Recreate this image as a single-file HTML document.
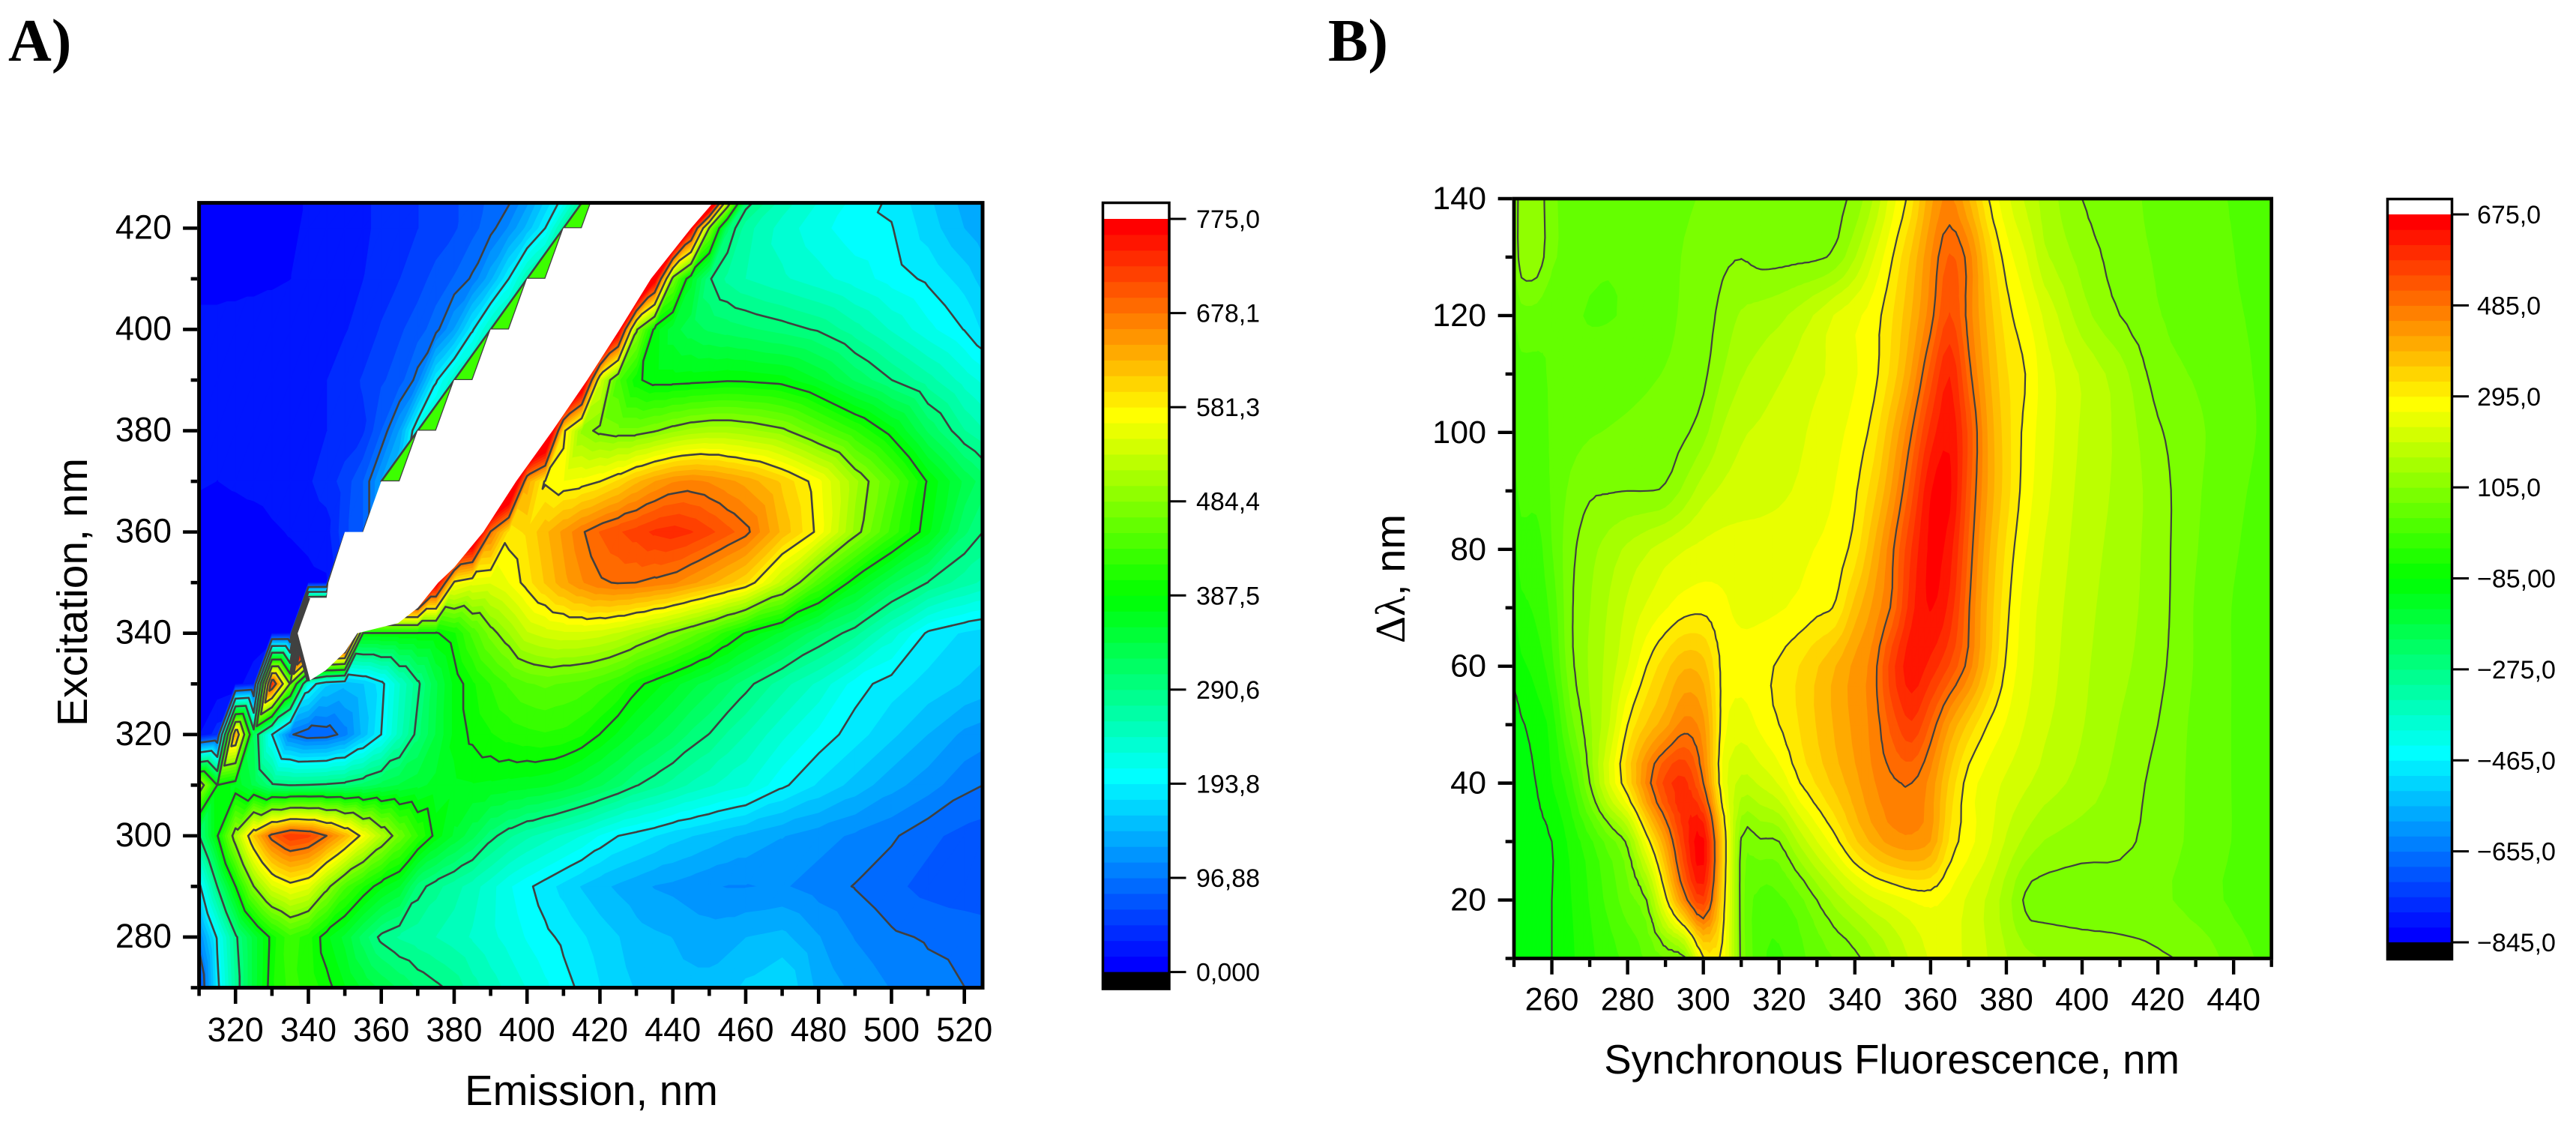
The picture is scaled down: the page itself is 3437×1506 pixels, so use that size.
<!DOCTYPE html>
<html lang="en">
<head>
<meta charset="utf-8">
<title>Fluorescence contour maps</title>
<style>
html,body{margin:0;padding:0;background:#fff;}
svg{display:block;}
text{font-family:"Liberation Sans",Arial,sans-serif;fill:#000;}
.panel-letter{font-family:"Liberation Serif",serif;font-weight:bold;font-size:80px;}
.greek{font-family:"Liberation Serif",serif;}
</style>
</head>
<body>
<svg id="root" xmlns="http://www.w3.org/2000/svg" width="3437" height="1506" viewBox="0 0 3437 1506">
  <rect width="3437" height="1506" fill="#fff"/>
  <text class="panel-letter" x="11" y="81">A)</text>
  <text class="panel-letter" x="1772" y="81">B)</text>
  <text x="789" y="1474" font-size="56.3" text-anchor="middle">Emission, nm</text>
  <text transform="translate(116,790) rotate(-90)" font-size="57" text-anchor="middle">Excitation, nm</text>
  <text x="2908" y="1432" font-size="54.6" text-anchor="end">Synchronous Fluorescence, nm</text>
  <text transform="translate(1874,772) rotate(-90)" font-size="56" text-anchor="middle"><tspan class="greek">Δλ</tspan>, nm</text>
  <g id="panelA"></g>
  <g id="panelB"></g>
</svg>
<script>
/* ---------- Panel A data: excitation-emission matrix ---------- */
const emissionNm=[310,315,320,325,330,335,340,345,350,355,360,365,370,375,380,385,390,395,400,405,410,415,420,425,430,435,440,445,450,455,460,470,480,490,500,510,520,525];
const excitationNm=[270,280,290,300,310,320,330,340,350,360,370,380,390,400,410,420,425];
const intensityA=[
[60,185,275,345,400,425,415,395,372,352,335,320,305,295,285,265,250,237,225,213,200,190,178,168,160,155,152,150,150,155,165,178,140,125,112,103,97,92],
[110,198,285,345,395,430,410,375,350,315,285,272,265,258,250,240,230,220,208,198,190,180,170,162,152,148,145,140,138,140,145,150,130,112,100,95,92,90],
[185,291,387,484,545,570,555,495,440,405,375,355,300,280,265,250,232,212,198,185,172,160,150,142,135,128,125,120,115,112,112,115,105,96,85,75,70,68],
[290,385,505,615,690,725,715,678,630,570,515,465,420,380,352,328,298,278,262,250,238,225,208,194,186,178,168,162,155,148,142,130,120,110,100,85,75,72],
[520,387,365,335,295,290,292,295,300,312,328,340,350,360,368,370,368,365,362,358,350,338,325,310,292,280,268,255,245,235,228,198,175,155,135,120,102,97],
[15,40,640,320,194,100,82,85,105,150,194,250,300,340,375,392,402,410,415,418,415,405,387,368,350,335,320,303,290,272,258,230,205,185,165,145,125,120],
[5,5,10,25,735,480,215,165,150,160,185,240,285,335,375,400,420,438,450,455,450,445,435,420,395,378,362,345,330,315,298,265,238,202,185,172,160,155],
[2,3,3,5,12,15,1000,1000,1000,385,385,385,385,385,400,440,475,500,530,540,545,545,540,530,515,498,480,460,438,410,385,350,310,280,235,190,175,170],
[6,6,6,7,8,9,12,14,1000,1000,1000,1000,1000,790,575,555,550,565,590,615,640,660,675,680,678,672,665,650,635,618,600,525,440,375,325,290,265,255],
[8,8,9,10,14,17,20,25,60,80,1000,1000,1000,1000,1000,860,675,590,600,625,650,675,695,708,718,730,735,728,715,700,685,625,575,495,430,375,310,291],
[18,16,18,20,22,25,30,40,55,80,130,170,1000,1000,1000,1000,1000,900,640,578,565,570,581,600,625,645,660,665,660,650,640,610,570,505,450,385,335,315],
[20,20,20,20,22,24,26,32,38,45,80,130,220,250,1000,1000,1000,1000,1000,900,590,495,478,472,472,482,495,505,510,510,505,490,455,420,378,320,275,260],
[20,20,20,20,22,24,28,32,40,50,62,72,105,190,240,270,1000,1000,1000,1000,1000,850,540,440,392,378,378,380,382,385,384,378,355,320,291,265,235,222],
[20,20,20,20,20,22,24,27,31,38,50,62,72,90,130,190,250,280,1000,1000,1000,1000,1000,800,490,380,345,330,320,315,310,300,288,265,240,215,193,175],
[12,12,13,14,15,16,18,22,26,32,40,48,58,70,82,100,140,194,260,290,1000,1000,1000,1000,1000,790,470,360,293,270,258,245,232,218,203,190,170,155],
[8,8,8,10,12,14,18,24,26,30,35,42,48,55,62,75,90,115,150,194,270,300,1000,1000,1000,1000,1000,780,480,310,265,235,215,200,195,170,145,135],
[8,8,8,10,12,14,17,22,26,30,35,42,48,55,62,72,85,95,125,165,205,280,1000,1000,1000,1000,1000,1000,900,520,300,250,225,205,190,165,140,128]
];
/* missing-data outline (scatter band) in nm */
const maskEm=[340,336.5,340,345,345.5,350,355,360,365,370,375,380,385,390,395,400,405,410,415,417.5,451,445,434,425.4,416.5,407,397,388,380,375.6,370,364.6,353.4,350,344.8];
const maskEx=[330.5,340,347,347,350,360,360,370,370,380,380,390,390,400,400,410,410,420,420,425,425,420,410,400,390,380,370,360,353,350,345,342,340,336.3,332.7];
const stairEx=[370,380,390,400,410,420];
const stairStartEm=[360,370,380,390,400,410];
const stairEndEm=[365,375,385,395,405,415];
const tipEdgeEm=[340,336.5,340];
const tipEdgeEx=[330.5,340,347];
const xTicksA=[320,340,360,380,400,420,440,460,480,500,520];
const xMinorA=[310,330,350,370,390,410,430,450,470,490,510];
const yTicksA=[280,300,320,340,360,380,400,420];
const yMinorA=[270,290,310,330,350,370,390,410];
const contourLevelsA=[96.88,193.75,290.63,387.5,484.38,581.25,678.13];
const legendValuesA=[775,678.1,581.3,484.4,387.5,290.6,193.8,96.88,0];
const legendLabelsA=["775,0","678,1","581,3","484,4","387,5","290,6","193,8","96,88","0,000"];

/* ---------- Panel B data: synchronous fluorescence ---------- */
const syncNm=[250,252,256,260,265,270,275,280,285,290,295,300,305,310,315,320,325,330,335,340,345,350,355,360,365,370,375,380,385,390,400,410,420,430,440,450];
const deltaNm=[10,20,30,40,50,60,70,80,90,100,110,120,130,140];
const intensityB=[
[-115,-110,-100,-85,-60,-30,-5,20,45,70,95,290,285,95,20,5,30,55,75,95,130,170,205,235,240,225,200,170,145,135,125,118,110,95,60,30],
[-110,-108,-100,-85,-55,-20,20,60,105,280,460,570,330,90,30,35,60,105,150,190,225,245,265,272,255,225,195,150,100,92,88,88,80,60,35,15],
[-108,-105,-95,-85,-45,0,55,115,270,420,580,650,350,100,100,105,170,230,285,350,400,435,445,420,320,275,240,195,160,135,120,114,90,65,40,20],
[-100,-97,-84,-55,0,105,225,330,460,560,590,485,260,190,205,235,290,330,370,410,450,478,485,440,350,280,250,225,205,185,155,125,95,65,40,20],
[-95,-88,-70,-40,60,130,195,295,360,410,465,430,280,245,270,295,325,360,395,430,465,530,575,510,420,350,295,260,230,205,170,135,105,65,40,20],
[-78,-60,-40,0,95,140,180,230,295,345,385,370,285,275,285,300,325,355,390,430,470,570,630,600,545,470,370,290,245,215,175,145,115,70,40,20],
[-55,-30,-15,20,100,135,170,205,235,260,280,285,270,255,255,260,270,285,300,370,430,495,600,645,600,490,385,305,250,220,180,150,120,70,40,20],
[-30,-5,-5,40,95,125,150,175,195,215,230,240,245,245,245,250,255,265,280,310,390,480,580,650,625,510,400,320,265,230,185,155,120,75,45,25],
[0,20,20,45,80,100,103,105,105,110,145,185,205,215,220,225,235,245,265,290,345,430,535,640,650,530,420,340,280,240,190,160,120,78,50,30],
[20,30,30,45,60,70,75,80,85,92,100,125,170,195,205,215,225,240,255,275,310,390,485,590,635,540,420,340,285,245,195,160,110,80,55,35],
[30,35,35,45,50,55,58,62,68,75,85,98,135,165,180,195,210,225,240,260,285,340,425,530,610,500,400,330,295,245,195,150,90,70,50,35],
[40,60,60,45,45,40,40,45,55,65,78,90,115,140,150,160,180,205,235,255,280,325,390,470,550,470,380,310,270,225,150,105,75,60,45,35],
[75,125,125,80,60,50,45,50,58,65,75,85,98,104,95,95,97,100,115,165,230,295,365,450,520,470,355,280,235,175,125,90,70,55,42,30],
[78,128,128,80,65,60,55,55,60,65,70,75,78,80,82,85,88,92,98,115,170,250,315,410,460,390,300,240,195,155,105,85,65,50,40,30]
];
const xTicksB=[260,280,300,320,340,360,380,400,420,440];
const xMinorB=[250,270,290,310,330,350,370,390,410,430,450];
const yTicksB=[20,40,60,80,100,120,140];
const yMinorB=[10,30,50,70,90,110,130];
const contourLevelsB=[-85,105,295,485];
const legendValuesB=[675,485,295,105,-85,-275,-465,-655,-845];
const legendLabelsB=["675,0","485,0","295,0","105,0","−85,00","−275,0","−465,0","−655,0","−845,0"];

/* ---------- helpers ---------- */
const NS='http://www.w3.org/2000/svg';
function mk(parent,tag,attrs,txt){
  const e=document.createElementNS(NS,tag);
  for(const k in attrs)e.setAttribute(k,attrs[k]);
  if(txt!==undefined)e.textContent=txt;
  parent.appendChild(e);
  return e;
}
const BAND_COUNT=48;
function bandColor(b){
  const stops=[[0,0,0,255],[12,0,255,255],[23.5,0,255,0],[35,255,255,0],[47,255,0,0]];
  for(let i=0;i<stops.length-1;i++){
    const a=stops[i],c=stops[i+1];
    if(b<=c[0]){
      const t=(b-a[0])/(c[0]-a[0]);
      const f=n=>Math.round(a[n]+(c[n]-a[n])*t);
      return 'rgb('+f(1)+','+f(2)+','+f(3)+')';
    }
  }
  return 'rgb(255,0,0)';
}
function clipZ(poly,limit,keepAbove){
  const out=[];
  for(let i=0;i<poly.length;i++){
    const p=poly[i],q=poly[(i+1)%poly.length];
    const pIn=keepAbove?p[2]>=limit:p[2]<=limit;
    const qIn=keepAbove?q[2]>=limit:q[2]<=limit;
    if(pIn)out.push(p);
    if(pIn!==qIn){
      const t=(limit-p[2])/(q[2]-p[2]);
      out.push([p[0]+(q[0]-p[0])*t,p[1]+(q[1]-p[1])*t,limit]);
    }
  }
  return out;
}
function crp(a,b,c,d,t){
  return 0.5*((2*b)+(-a+c)*t+(2*a-5*b+4*c-d)*t*t+(-a+3*b-3*c+d)*t*t*t);
}
function refineLine(v,f){
  const out=[];
  for(let i=0;i<v.length-1;i++){
    const a=v[Math.max(0,i-1)],b=v[i],c=v[i+1],d=v[Math.min(v.length-1,i+2)];
    for(let k=0;k<f;k++)out.push(crp(a,b,c,d,k/f));
  }
  out.push(v[v.length-1]);
  return out;
}
function refineAxis(v,f){
  const out=[];
  for(let i=0;i<v.length-1;i++)for(let k=0;k<f;k++)out.push(v[i]+(v[i+1]-v[i])*k/f);
  out.push(v[v.length-1]);
  return out;
}
function refineGrid(z,f){
  const rows=z.map(r=>refineLine(r,f));
  const nc=rows[0].length;
  const cols=[];
  for(let c=0;c<nc;c++)cols.push(refineLine(rows.map(r=>r[c]),f));
  const res=[];
  for(let r=0;r<cols[0].length;r++){
    const line=[];
    for(let c=0;c<nc;c++)line.push(cols[c][r]);
    res.push(line);
  }
  return res;
}
function drawField(group,xs,ys,z,sx,sy,zMin,zMax,levels,lineW,clipId,prefix){
  const step=(zMax-zMin)/BAND_COUNT;
  const paths=new Array(BAND_COUNT).fill('');
  const lines=levels.map(()=>[]);
  function tri(a,b,c){
    const lo=Math.min(a[2],b[2],c[2]),hi=Math.max(a[2],b[2],c[2]);
    let b0=Math.floor((lo-zMin)/step),b1=Math.floor((hi-zMin)/step);
    b0=Math.max(0,Math.min(BAND_COUNT-1,b0));
    b1=Math.max(0,Math.min(BAND_COUNT-1,b1));
    for(let k=b0;k<=b1;k++){
      let poly=[a,b,c];
      if(k>0)poly=clipZ(poly,zMin+k*step,true);
      if(poly.length&&k<BAND_COUNT-1)poly=clipZ(poly,zMin+(k+1)*step,false);
      if(poly.length<3)continue;
      let s='M';
      for(let i=0;i<poly.length;i++)s+=(i?'L':'')+poly[i][0].toFixed(1)+' '+poly[i][1].toFixed(1);
      paths[k]+=s+'Z';
    }
    levels.forEach((L0,li)=>{
      const L=L0+0.013;
      if(L<lo||L>hi)return;
      const pts=[];
      [[a,b],[b,c],[c,a]].forEach(e=>{
        const p=e[0],q=e[1];
        if((p[2]-L)*(q[2]-L)<0){
          const t=(L-p[2])/(q[2]-p[2]);
          pts.push((p[0]+(q[0]-p[0])*t).toFixed(1)+' '+(p[1]+(q[1]-p[1])*t).toFixed(1));
        }
      });
      if(pts.length===2)lines[li].push('M'+pts[0]+'L'+pts[1]);
    });
  }
  for(let j=0;j<ys.length-1;j++){
    for(let i=0;i<xs.length-1;i++){
      const p00=[sx(xs[i]),sy(ys[j]),z[j][i]];
      const p10=[sx(xs[i+1]),sy(ys[j]),z[j][i+1]];
      const p01=[sx(xs[i]),sy(ys[j+1]),z[j+1][i]];
      const p11=[sx(xs[i+1]),sy(ys[j+1]),z[j+1][i+1]];
      tri(p00,p10,p11);
      tri(p00,p01,p11);
    }
  }
  const fillGroup=mk(group,'g',{'clip-path':'url(#'+clipId+')'});
  
  
  paths.forEach((d,k)=>{
    if(!d)return;
    const col=bandColor(k);
    const p=mk(fillGroup,'path',{d:d,fill:col,stroke:col,'stroke-width':'0.9','stroke-linejoin':'round'});
    
    
  });
  const lineGroup=mk(group,'g',{'clip-path':'url(#'+clipId+')'});
  
  
  lines.forEach(segs=>{
    if(!segs.length)return;
    const p=mk(lineGroup,'path',{d:segs.join(''),fill:'none',stroke:'#404040','stroke-width':lineW,'stroke-linecap':'round'});
    
    
  });
}
function drawAxes(group,c,prefix){
  const frame=mk(group,'rect',{x:c.x0,y:c.y0,width:c.x1-c.x0,height:c.y1-c.y0,fill:'none',stroke:'#000','stroke-width':c.frameW});
  
  
  const outer=c.frameW/2;
  c.xTicks.forEach(v=>{
    const l=mk(group,'line',{x1:c.sx(v),x2:c.sx(v),y1:c.y1+outer,y2:c.y1+outer+c.major,stroke:'#000','stroke-width':c.tickW});
    
    
    const t=mk(group,'text',{x:c.sx(v),y:c.xLabelY,'font-size':c.font,'text-anchor':'middle'},String(v));
    
    
  });
  c.xMinor.forEach(v=>{
    const l=mk(group,'line',{x1:c.sx(v),x2:c.sx(v),y1:c.y1+outer,y2:c.y1+outer+c.minor,stroke:'#000','stroke-width':c.tickW});
    
    
  });
  c.yTicks.forEach(v=>{
    const l=mk(group,'line',{x1:c.x0-outer-c.major,x2:c.x0-outer,y1:c.sy(v),y2:c.sy(v),stroke:'#000','stroke-width':c.tickW});
    
    
    const t=mk(group,'text',{x:c.yLabelX,y:c.sy(v)+14,'font-size':c.font,'text-anchor':'end'},String(v));
    
    
  });
  c.yMinor.forEach(v=>{
    const l=mk(group,'line',{x1:c.x0-outer-c.minor,x2:c.x0-outer,y1:c.sy(v),y2:c.sy(v),stroke:'#000','stroke-width':c.tickW});
    
    
  });
}
function drawLegend(group,c,values,labels,prefix){
  const step=(c.vMax-c.vMin)/BAND_COUNT;
  const sv=v=>c.yBottom-(v-c.vMin)/(c.vMax-c.vMin)*(c.yBottom-c.yTop);
  for(let k=0;k<BAND_COUNT;k++){
    const a=sv(c.vMin+k*step),b=sv(c.vMin+(k+1)*step);
    const r=mk(group,'rect',{x:c.x0,y:b,width:c.x1-c.x0,height:a-b+0.5,fill:bandColor(k)});
    
    
  }
  const under=mk(group,'rect',{x:c.x0,y:c.yBottom,width:c.x1-c.x0,height:c.under,fill:'#000'});
  
  
  const over=mk(group,'rect',{x:c.x0,y:c.yTop-c.over,width:c.x1-c.x0,height:c.over,fill:'#fff'});
  
  
  const fr=mk(group,'rect',{x:c.x0-1.5,y:c.yTop-c.over-1.5,width:c.x1-c.x0+3,height:c.yBottom-c.yTop+c.over+c.under+3,fill:'none',stroke:'#000','stroke-width':3.5});
  
  
  values.forEach((v,i)=>{
    const l=mk(group,'line',{x1:c.x1+3,x2:c.x1+24,y1:sv(v),y2:sv(v),stroke:'#000','stroke-width':3});
    
    
    const t=mk(group,'text',{x:c.labelX,y:sv(v)+12,'font-size':34},labels[i]);
    
    
  });
}
function addClip(id,x0,y0,x1,y1){
  const root=document.getElementById('root');
  const defs=mk(root,'defs',{});
  const cp=mk(defs,'clipPath',{id:id});
  mk(cp,'rect',{x:x0,y:y0,width:x1-x0,height:y1-y0});
}

/* ---------- Panel A ---------- */
(function(){
  const group=document.getElementById('panelA');
  const x0=265.6,x1=1311,y0=270.6,y1=1317.5;
  const sx=v=>x0+(v-310)*(x1-x0)/215;
  const sy=v=>y1-(v-270)*(y1-y0)/155;
  addClip('clipA',x0,y0,x1,y1);
  drawField(group,emissionNm,excitationNm,intensityA,sx,sy,0,775,contourLevelsA,2.6,'clipA','panel-a');
  const overlay=mk(group,'g',{'clip-path':'url(#clipA)'});
  
  
  stairEx.forEach((ex,i)=>{
    const pts=[[stairStartEm[i],ex],[stairEndEm[i],ex],[stairStartEm[i]+10,ex+10]].map(p=>sx(p[0]).toFixed(1)+','+sy(p[1]).toFixed(1)).join(' ');
    const s=mk(overlay,'polygon',{points:pts,fill:'#3cff00',stroke:'#404040','stroke-width':2.6,'stroke-linejoin':'round'});
    
    
  });
  const maskPts=maskEm.map((m,i)=>sx(m).toFixed(1)+','+sy(maskEx[i]).toFixed(1)).join(' ');
  const mask=mk(overlay,'polygon',{points:maskPts,fill:'#fff'});
  
  
  const tipPts=tipEdgeEm.map((m,i)=>sx(m).toFixed(1)+','+sy(tipEdgeEx[i]).toFixed(1)).join(' ');
  const tip=mk(overlay,'polyline',{points:tipPts,fill:'none',stroke:'#404040','stroke-width':5});
  
  
  drawAxes(group,{x0:x0,x1:x1,y0:y0,y1:y1,sx:sx,sy:sy,frameW:5,tickW:4.6,major:19,minor:8.5,font:45,
    xLabelY:1389,yLabelX:229,xTicks:xTicksA,xMinor:xMinorA,yTicks:yTicksA,yMinor:yMinorA},'panel-a');
  drawLegend(group,{x0:1473,x1:1558.5,yTop:292,yBottom:1296.6,vMin:0,vMax:775,under:21,over:20,labelX:1596},legendValuesA,legendLabelsA,'panel-a');
})();

/* ---------- Panel B ---------- */
(function(){
  const group=document.getElementById('panelB');
  const x0=2020,x1=3030.7,y0=265,y1=1278.5;
  const sx=v=>x0+(v-250)*(x1-x0)/200;
  const sy=v=>y1-(v-10)*(y1-y0)/130;
  addClip('clipB',x0,y0,x1,y1);
  const f=3;
  drawField(group,refineAxis(syncNm,f),refineAxis(deltaNm,f),refineGrid(intensityB,f),sx,sy,-845,675,contourLevelsB,2.2,'clipB','panel-b');
  drawAxes(group,{x0:x0,x1:x1,y0:y0,y1:y1,sx:sx,sy:sy,frameW:4.7,tickW:4.4,major:19,minor:9,font:43,
    xLabelY:1347.7,yLabelX:1983,xTicks:xTicksB,xMinor:xMinorB,yTicks:yTicksB,yMinor:yMinorB},'panel-b');
  drawLegend(group,{x0:3187,x1:3270,yTop:286,yBottom:1257,vMin:-845,vMax:675,under:21,over:19,labelX:3305},legendValuesB,legendLabelsB,'panel-b');
})();
</script>
</body>
</html>
